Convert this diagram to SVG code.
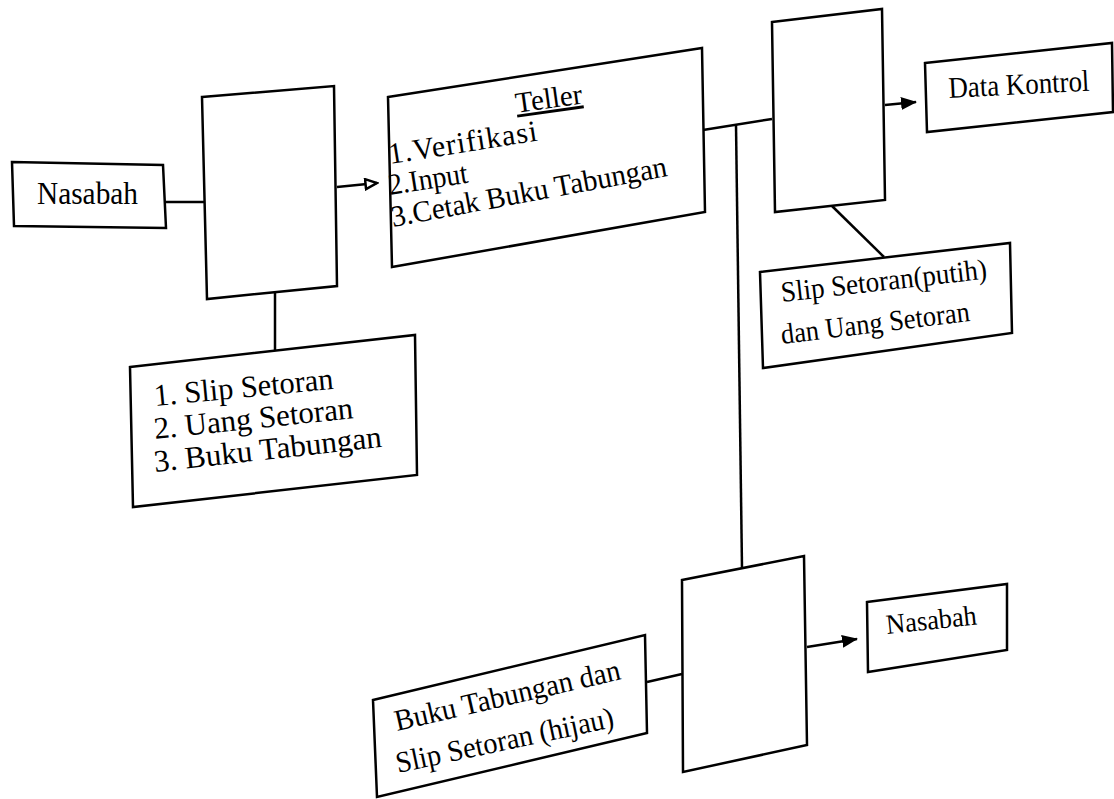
<svg xmlns="http://www.w3.org/2000/svg" width="1114" height="799" viewBox="0 0 1114 799">
<defs>
<style>
.b{fill:#fff;stroke:#000;stroke-width:2.5;stroke-linejoin:miter}
.c{fill:none;stroke:#000;stroke-width:2.5}
.t{font-family:"Liberation Serif","Times New Roman",serif;fill:#000}
</style>
<marker id="af" viewBox="0 0 16 13" refX="15" refY="6.5" markerWidth="16" markerHeight="13" markerUnits="userSpaceOnUse" orient="auto">
<path d="M0,0 L16,6.5 L0,13 Z" fill="#000"/>
</marker>
<marker id="ah" viewBox="0 0 15 13" refX="13" refY="6.5" markerWidth="15" markerHeight="13" markerUnits="userSpaceOnUse" orient="auto">
<path d="M1.5,1.5 L13,6.5 L1.5,11.5 Z" fill="#fff" stroke="#000" stroke-width="2.5"/>
</marker>
</defs>
<rect width="1114" height="799" fill="#fff"/>

<g id="connectors">
<line class="c" x1="166" y1="202" x2="205" y2="202"/>
<line class="c" x1="337" y1="187" x2="377" y2="183" marker-end="url(#ah)"/>
<line class="c" x1="275" y1="292" x2="275" y2="351"/>
<line class="c" x1="703" y1="130" x2="772" y2="119"/>
<line class="c" x1="736" y1="125" x2="742" y2="568"/>
<line class="c" x1="885" y1="105" x2="916" y2="102" marker-end="url(#af)"/>
<line class="c" x1="832" y1="206" x2="884" y2="257"/>
<line class="c" x1="647" y1="682" x2="682" y2="674"/>
<line class="c" x1="807" y1="647" x2="857" y2="639" marker-end="url(#af)"/>
</g>

<g id="nasabah1">
<polygon class="b" points="12,162 163,165 166,228 14,226"/>
<text class="t" x="37" y="204" font-size="31" textLength="101" lengthAdjust="spacingAndGlyphs">Nasabah</text>
</g>

<g id="doc1">
<polygon class="b" points="202,97 334,86 337,286 207,299"/>
</g>

<g id="list1">
<polygon class="b" points="130,367 415,335 417,475 133,507"/>
<text class="t" font-size="31" lengthAdjust="spacingAndGlyphs" transform="translate(155,406) rotate(-5.5)" textLength="180">1. Slip Setoran</text>
<text class="t" font-size="31" lengthAdjust="spacingAndGlyphs" transform="translate(155,439) rotate(-6)" textLength="200">2. Uang Setoran</text>
<text class="t" font-size="31" lengthAdjust="spacingAndGlyphs" transform="translate(155,472) rotate(-6.3)" textLength="229">3. Buku Tabungan</text>
</g>

<g id="teller">
<polygon class="b" points="388,97 702,48 705,212 392,267"/>
<text class="t" font-size="29" text-anchor="middle" text-decoration="underline" transform="translate(550,108) rotate(-8)">Teller</text>
<text class="t" font-size="30" transform="translate(390,164) rotate(-9)" textLength="150">1.Verifikasi</text>
<text class="t" font-size="30" transform="translate(390,195) rotate(-9)" textLength="80" lengthAdjust="spacingAndGlyphs">2.Input</text>
<text class="t" font-size="30" transform="translate(393,227) rotate(-10.5)" textLength="280" lengthAdjust="spacingAndGlyphs">3.Cetak Buku Tabungan</text>
</g>

<g id="doc2">
<polygon class="b" points="772,22 882,9 885,200 775,212"/>
</g>

<g id="datakontrol">
<polygon class="b" points="925,63 1112,43 1113,112 927,132"/>
<text class="t" font-size="30" transform="translate(949,98) rotate(-3)" textLength="141" lengthAdjust="spacingAndGlyphs">Data Kontrol</text>
</g>

<g id="slipputih">
<polygon class="b" points="760,272 1010,243 1012,333 763,368"/>
<text class="t" font-size="29" transform="translate(782,302) rotate(-6.5)" textLength="207" lengthAdjust="spacingAndGlyphs">Slip Setoran(putih)</text>
<text class="t" font-size="29" transform="translate(782,344) rotate(-7)" textLength="190" lengthAdjust="spacingAndGlyphs">dan Uang Setoran</text>
</g>

<g id="bukuhijau">
<polygon class="b" points="373,700 645,635 647,733 377,797"/>
<text class="t" font-size="30" transform="translate(397,731) rotate(-13)" textLength="231" lengthAdjust="spacingAndGlyphs">Buku Tabungan dan</text>
<text class="t" font-size="30" transform="translate(398,773) rotate(-12)" textLength="222" lengthAdjust="spacingAndGlyphs">Slip Setoran (hijau)</text>
</g>

<g id="doc3">
<polygon class="b" points="682,580 804,556 807,745 683,772"/>
</g>

<g id="nasabah2">
<polygon class="b" points="867,602 1007,584 1007,650 868,672"/>
<text class="t" font-size="28" transform="translate(887,634) rotate(-6)" textLength="91" lengthAdjust="spacingAndGlyphs">Nasabah</text>
</g>
</svg>
